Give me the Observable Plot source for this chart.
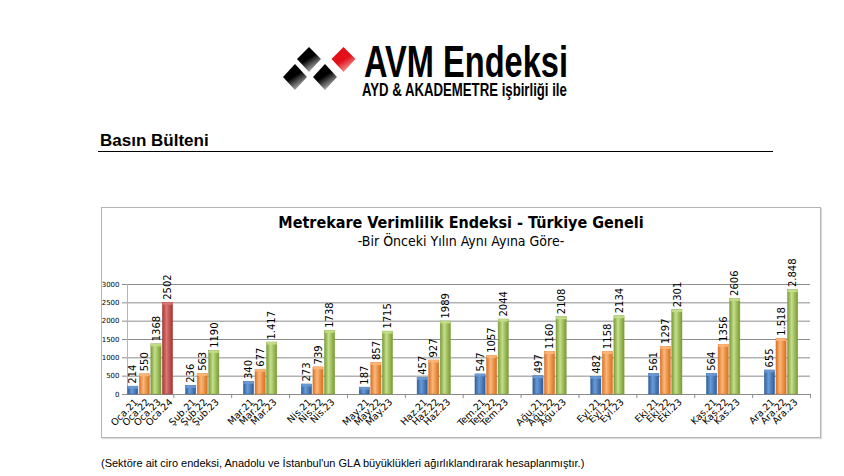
<!DOCTYPE html>
<html><head><meta charset="utf-8">
<script src="https://cdn.jsdelivr.net/npm/d3@7"></script>
<script src="https://cdn.jsdelivr.net/npm/@observablehq/plot@0.6"></script>
<style>
body{margin:0;background:#fff;width:844px;height:476px;position:relative;overflow:hidden;font-family:"Liberation Sans",Arial,sans-serif;color:#000}
#logo{position:absolute;left:270px;top:20px}
#heading{position:absolute;left:100px;top:131px;font-size:17px;font-weight:bold;line-height:20px}
#rule{position:absolute;left:98px;top:151px;width:675px;height:0;border-top:1.5px solid #000}
#box{position:absolute;left:101px;top:207px;width:718px;height:229px;border:1px solid #b4b4b4;box-shadow:1px 1px 1px #ddd}
#title{position:absolute;left:0;width:100%;top:5px;text-align:center;font-family:"DejaVu Sans Condensed","DejaVu Sans",sans-serif;font-stretch:condensed;font-weight:bold;font-size:16px;line-height:19px}
#subtitle{position:absolute;left:0;width:100%;top:25px;text-align:center;font-family:"DejaVu Sans Condensed","DejaVu Sans",sans-serif;font-stretch:condensed;font-size:14px;line-height:17px}
#chart{position:absolute;left:0;top:47px}
#caption{position:absolute;left:101px;top:456px;font-size:11px;line-height:14px}
</style></head><body>
<svg id="logo" width="320" height="95" viewBox="0 0 320 95">
  <defs>
    <linearGradient id="lgk" x1="0" y1="0" x2="0.6" y2="1">
      <stop offset="0" stop-color="#000"/><stop offset="0.55" stop-color="#000"/><stop offset="1" stop-color="#bbb"/>
    </linearGradient>
    <linearGradient id="lgr" x1="0" y1="0" x2="0.6" y2="1">
      <stop offset="0" stop-color="#e3101a"/><stop offset="0.6" stop-color="#e3101a"/><stop offset="1" stop-color="#f0a0a0"/>
    </linearGradient>
  </defs>
  <polygon points="39,27 51,39 39,52 27,39" fill="url(#lgk)"/>
  <polygon points="73.5,27 85.5,39 73.5,52 61.5,39" fill="url(#lgr)"/>
  <polygon points="25,44 37,57 25,70 13,57" fill="url(#lgk)"/>
  <polygon points="55,44 67,57 55,70 43,57" fill="url(#lgk)"/>
  <text id="t1" font-family="Liberation Sans, Arial, sans-serif" font-weight="bold" font-size="44">AVM Endeksi</text>
  <text id="t2" font-family="Liberation Sans, Arial, sans-serif" font-weight="bold" font-size="17.5">AYD &amp; AKADEMETRE işbirliği ile</text>
</svg>
<div id="heading">Basın Bülteni</div>
<div id="rule"></div>
<div id="box">
  <div id="title">Metrekare Verimlilik Endeksi - Türkiye Geneli</div>
  <div id="subtitle">-Bir Önceki Yılın Aynı Ayına Göre-</div>
  <div id="chart"></div>
</div>
<div id="caption">(Sektöre ait ciro endeksi, Anadolu ve İstanbul'un GLA büyüklükleri ağırlıklandırarak hesaplanmıştır.)</div>
<script>
const months = ["Oca","Şub","Mar","Nis","May","Haz","Tem","Ağu","Eyl","Eki","Kas","Ara"];
const years = ["21","22","23","24"];
const values21 = [214,236,340,273,187,457,547,497,482,561,564,655];
const values22 = [550,563,677,739,857,927,1057,1160,1158,1297,1356,1518];
const values23 = [1368,1190,1417,1738,1715,1989,2044,2108,2134,2301,2606,2848];
const values24 = [2502];
const labels21 = ["214","236","340","273","187","457","547","497","482","561","564","655"];
const labels22 = ["550","563","677","739","857","927","1057","1160","1158","1297","1356","1.518"];
const labels23 = ["1368","1190","1.417","1738","1715","1989","2044","2108","2134","2301","2606","2.848"];
const labels24 = ["2502"];
const yTicks = [0,500,1000,1500,2000,2500,3000];
const colors = {
  "21": ["#2f5f9c","#6b9bd6","#3c6dab"],
  "22": ["#d8732a","#fdb77a","#e0812f"],
  "23": ["#7d9c3c","#c4df8a","#8aab44"],
  "24": ["#a23a37","#dc7774","#b0433f"]
};

// logo text: fit to measured widths with a horizontal scale
function fitText(id, x, y, w) {
  const t = document.getElementById(id);
  const nat = t.getComputedTextLength();
  t.setAttribute("transform", `translate(${x},${y}) scale(${w / nat},1)`);
}
fitText("t1", 94, 57, 204);
fitText("t2", 92, 76, 205);

const seriesVals = [values21, values22, values23, values24];
const seriesLabs = [labels21, labels22, labels23, labels24];
const rows = [];
seriesVals.forEach((vals, j) => {
  vals.forEach((v, i) => {
    rows.push({month: months[i], year: years[j], value: v, label: seriesLabs[j][i], slot: 5 * i + j, cat: months[i] + "." + years[j]});
  });
});
const tickSlots = months.map((m, i) => 5 * i + 3.5);

const defs = () => {
  const d = d3.create("svg:defs");
  for (const [k, c] of Object.entries(colors)) {
    const g = d.append("linearGradient").attr("id", "bar" + k).attr("x1", 0).attr("x2", 1).attr("y1", 0).attr("y2", 0);
    g.append("stop").attr("offset", 0).attr("stop-color", c[0]);
    g.append("stop").attr("offset", 0.4).attr("stop-color", c[1]);
    g.append("stop").attr("offset", 0.85).attr("stop-color", c[2]);
    g.append("stop").attr("offset", 1).attr("stop-color", c[0]);
  }
  return d.node();
};

const chart = Plot.plot({
  width: 718,
  height: 181,
  marginLeft: 25,
  marginRight: 10,
  marginTop: 29,
  marginBottom: 42,
  style: {fontFamily: "DejaVu Sans, sans-serif", background: "transparent", color: "#000", overflow: "visible"},
  x: {type: "linear", domain: [-0.5, 58.5], axis: null},
  y: {domain: [0, 3000], axis: null},
  marks: [
    defs,
    Plot.ruleY(yTicks, {stroke: "#8c8c8c", strokeWidth: 1}),
    Plot.ruleX([-0.5], {stroke: "#9fb9dc", strokeWidth: 1}),
    Plot.axisY({ticks: yTicks, tickSize: 5, tickPadding: 3, fontSize: 7, stroke: "#8c8c8c", tickFormat: d => String(d), anchor: "left", label: null}),
    Plot.ruleX(tickSlots, {y1: 0, y2: -110, stroke: "#8c8c8c"}),
    Plot.rectY(rows, {x1: d => d.slot - 0.44, x2: d => d.slot + 0.44, y: "value", fill: d => `url(#bar${d.year})`, stroke: d => colors[d.year][0], strokeWidth: 0.5}),
    Plot.rect(rows, {x1: d => d.slot - 0.44, x2: d => d.slot + 0.44, y1: "value", y2: "value", insetBottom: -2.5, fill: d => colors[d.year][1], fillOpacity: 0.9}),
    Plot.text(rows, {x: "slot", y: "value", text: "label", rotate: -90, textAnchor: "start", lineAnchor: "middle", dy: -3, fontSize: 10, fill: "#000"}),
    Plot.text(rows, {x: "slot", y: () => 0, text: "cat", rotate: -45, textAnchor: "end", lineAnchor: "middle", dx: 3, dy: 6, fontSize: 9.5, fill: "#000"})
  ]
});
document.getElementById("chart").appendChild(chart);
</script>
</body></html>
